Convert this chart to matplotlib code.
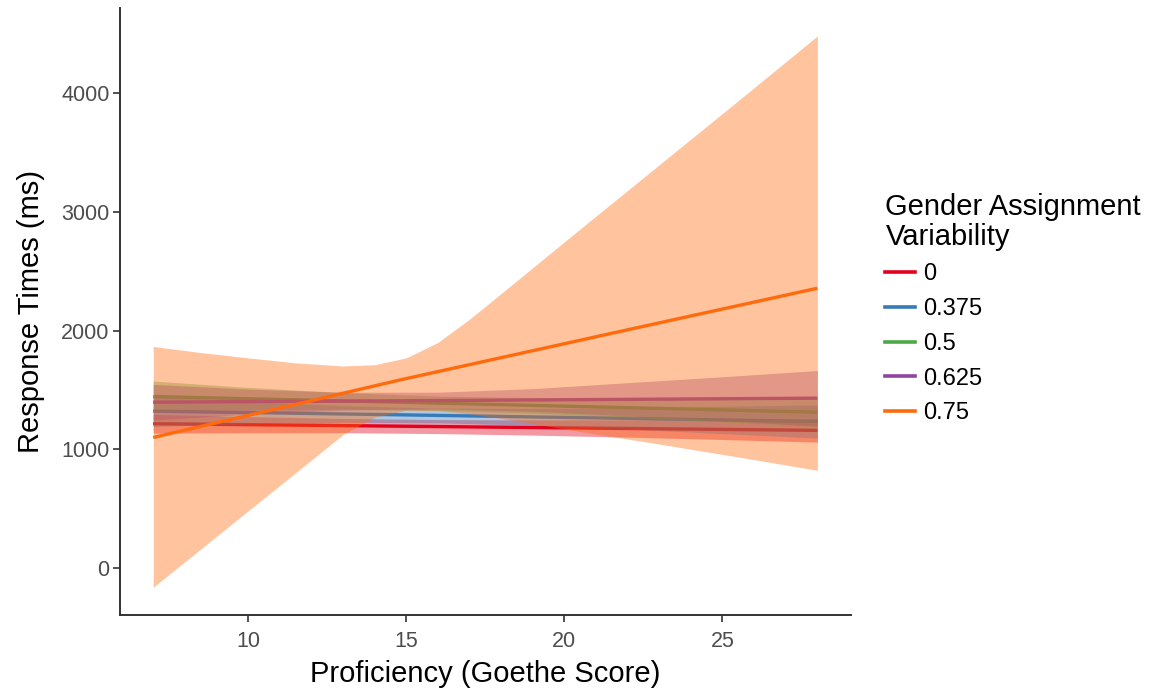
import matplotlib
matplotlib.use("Agg")
import matplotlib.pyplot as plt
from matplotlib.lines import Line2D

plt.rcParams['font.family'] = ['Liberation Sans', 'DejaVu Sans']

# fitted lines and confidence bands
x_grid = [7, 10, 13, 16, 19, 22, 25, 28]

red_fit = [1216, 1208, 1200, 1192, 1184, 1176, 1168, 1160]
red_lo = [1137, 1140, 1140, 1133, 1120, 1103, 1083, 1061]
red_hi = [1295, 1276, 1260, 1251, 1248, 1249, 1253, 1259]

blue_fit = [1322, 1310, 1298, 1286, 1273, 1261, 1248, 1235]
blue_lo = [1192, 1215, 1228, 1224, 1203, 1171, 1133, 1095]
blue_hi = [1452, 1405, 1368, 1348, 1343, 1351, 1363, 1375]

green_fit = [1445, 1426, 1408, 1389, 1370, 1351, 1332, 1313]
green_lo = [1315, 1331, 1338, 1329, 1305, 1271, 1232, 1193]
green_hi = [1575, 1521, 1478, 1449, 1435, 1431, 1432, 1433]

purple_fit = [1397, 1402, 1406, 1411, 1416, 1421, 1426, 1431]
purple_lo = [1247, 1297, 1331, 1341, 1321, 1281, 1241, 1197]
purple_hi = [1547, 1507, 1481, 1481, 1511, 1561, 1611, 1664]

orange_x = [7, 14.8, 21.5, 28]
orange_fit = [1100, 1584, 1977, 2356]
orange_band_x = [7, 8.5, 10, 11.5, 13, 14, 15, 16, 17, 18.5, 20.5, 23, 25.5, 28]
orange_lo = [-160, 161, 482, 803, 1124, 1270, 1330, 1325, 1300, 1240, 1150, 1045, 936, 824]
orange_hi = [1866, 1815, 1770, 1728, 1702, 1712, 1770, 1900, 2095, 2420, 2855, 3395, 3935, 4479]

labels = ['0', '0.375', '0.5', '0.625', '0.75']
colors = ['#E3001C', '#377AB8', '#4BAA46', '#8E46A0', '#FF6A0D']

series = [
    (x_grid, red_fit, x_grid, red_lo, red_hi),
    (x_grid, blue_fit, x_grid, blue_lo, blue_hi),
    (x_grid, green_fit, x_grid, green_lo, green_hi),
    (x_grid, purple_fit, x_grid, purple_lo, purple_hi),
    (orange_x, orange_fit, orange_band_x, orange_lo, orange_hi),
]

fig = plt.figure(figsize=(11.56, 6.9), dpi=100)
ax = fig.add_axes([0.1038, 0.109, 0.632, 0.879])

# ggplot draws ribbon then line for each group in turn
z = 2
for (lx, ly, bx, lo, hi), col in zip(series, colors):
    ax.fill_between(bx, lo, hi, color=col, alpha=0.4, linewidth=0, zorder=z)
    ax.plot(lx, ly, color=col, lw=2.4, solid_capstyle='butt', zorder=z + 1)
    z += 2

ax.set_xlim(5.95, 29.05)
ax.set_ylim(-392, 4712)
ax.set_xticks([10, 15, 20, 25])
ax.set_yticks([0, 1000, 2000, 3000, 4000])

for s in ['top', 'right']:
    ax.spines[s].set_visible(False)
for s in ['left', 'bottom']:
    ax.spines[s].set_color('#333333')
    ax.spines[s].set_linewidth(1.4)
ax.tick_params(colors='#333333', labelcolor='#4D4D4D', labelsize=15.5, length=5, width=1.2)
ax.tick_params(axis='x', pad=6.5)
ax.tick_params(axis='y', pad=2.5)

ax.set_xlabel('Proficiency (Goethe Score)', fontsize=21, labelpad=6)
ax.set_ylabel('Response Times (ms)', fontsize=21, labelpad=12)

handles = [Line2D([0], [0], color=c, lw=2.6) for c in colors]
leg = fig.legend(handles, labels, title='Gender Assignment\nVariability',
                 loc='upper left', bbox_to_anchor=(0.766, 0.721),
                 frameon=False, fontsize=17, title_fontsize=21,
                 handlelength=1.25, handletextpad=0.35, labelspacing=0.54,
                 borderaxespad=0, borderpad=0)
leg._legend_box.align = 'left'
leg.get_title().set_linespacing(1.1)

fig.savefig('out.png', dpi=100)
